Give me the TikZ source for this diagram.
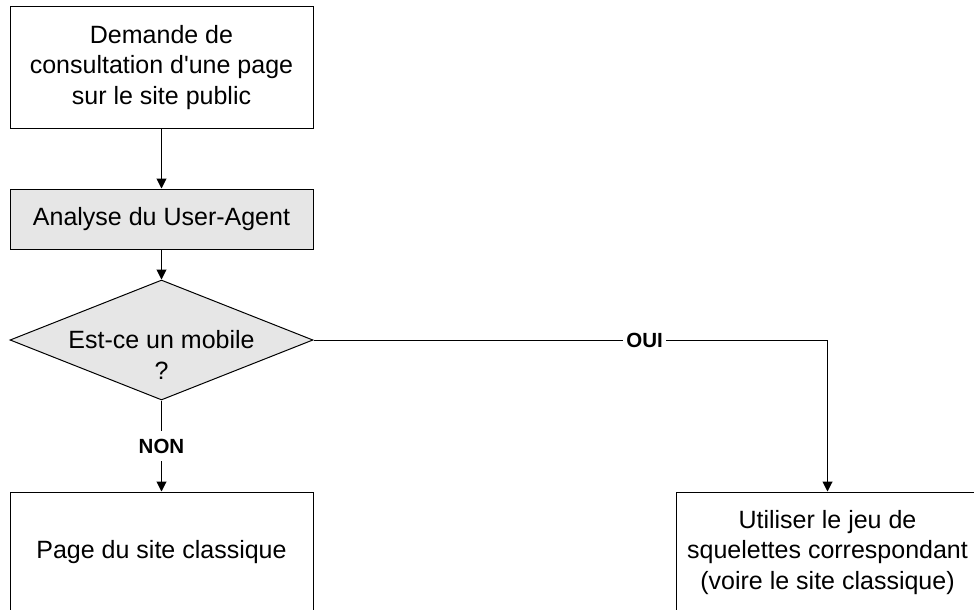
\documentclass[tikz,border=0pt]{standalone}
\usepackage{fontspec}
\setmainfont{Liberation Sans}
\usetikzlibrary{arrows.meta,shapes.geometric}
\definecolor{boxgray}{RGB}{230,230,230}
\tikzset{
  box/.style={draw=black, line width=1pt, fill=white, minimum width=303pt, inner sep=0pt, align=center, font=\fontsize{25}{30.5}\selectfont},
  graybox/.style={box, fill=boxgray},
  dia/.style={draw=black, line width=1pt, fill=boxgray, shape=diamond, minimum width=303pt, minimum height=120pt, inner sep=0pt},
  txt/.style={align=center, inner sep=0pt, font=\fontsize{25}{30.5}\selectfont},
  conn/.style={draw=black, line width=1pt, -{Triangle[length=10pt,width=10pt]}},
  lbl/.style={fill=white, inner xsep=3pt, inner ysep=8pt, font=\fontsize{20.5}{24}\selectfont\bfseries}
}
\begin{document}
\begin{tikzpicture}[x=1pt,y=-1pt]
\useasboundingbox (0,0) rectangle (974,610);
\clip (0,0) rectangle (974,610);
\fill[white] (0,0) rectangle (974,610);
\node[box, minimum height=121pt] (top) at (161.5,67.5) {Demande de\\consultation d\textquotesingle une page\\sur le site public};
\node[graybox, minimum height=60pt] (ana) at (161.5,219) {Analyse du User-Agent};
\node[dia] (d) at (161.5,340) {};
\node[txt] (dtext) at (161.5,355) {Est-ce un mobile\\?};
\node[box, minimum height=121pt] (page) at (161.5,552.5) {Page du site classique};
\node[box, minimum height=121pt] (util) at (827.5,552.5) {Utiliser le jeu de\\squelettes correspondant\\(voire le site classique)};
\draw[conn] (top.south) -- (ana.north);
\draw[conn] (ana.south) -- (d.north);
\draw[conn] (d.south) -- node[lbl, pos=0.5] (non) {NON} (page.north);
\draw[conn] (d.east) -| node[lbl, pos=0.322] (oui) {OUI} (util.north);
\end{tikzpicture}
\end{document}
